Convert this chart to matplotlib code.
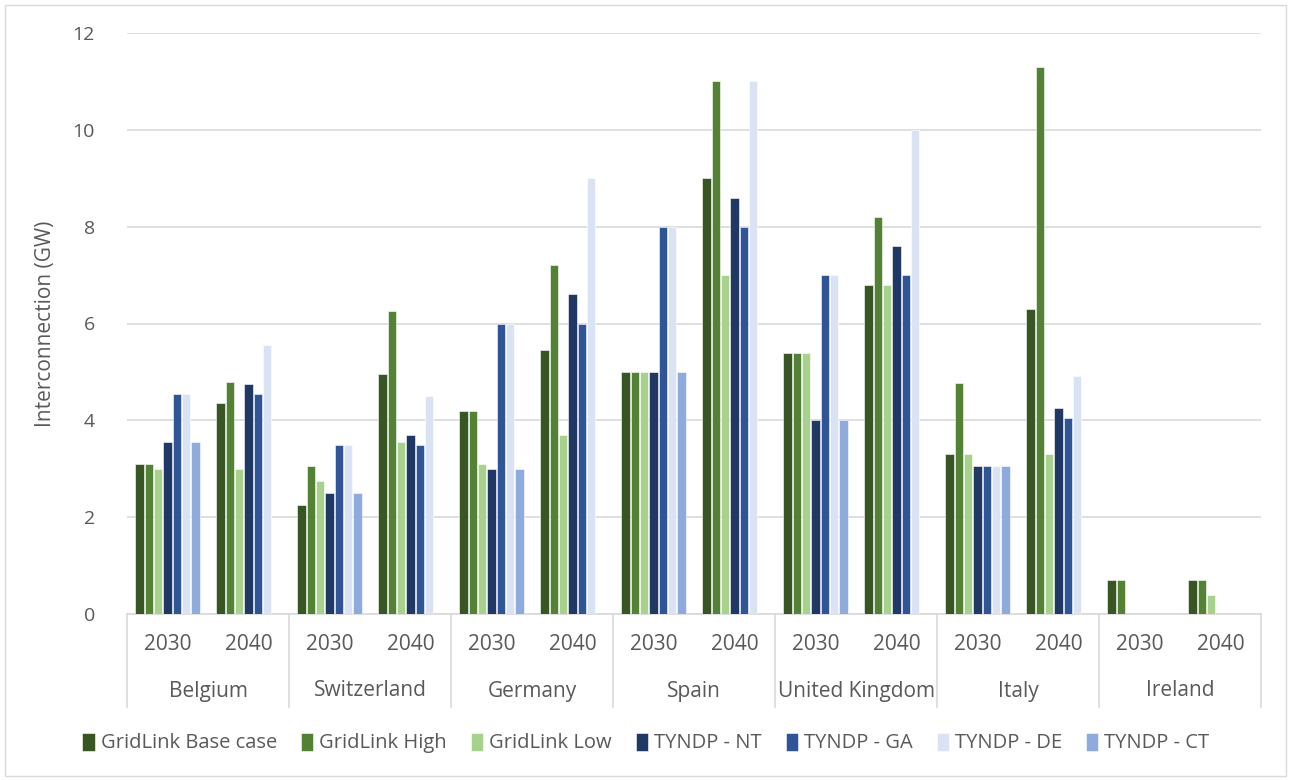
import numpy as np
import matplotlib
matplotlib.use("Agg")
import matplotlib.pyplot as plt
from matplotlib.patches import Rectangle

plt.rcParams['font.family'] = ['Open Sans', 'DejaVu Sans']

countries = ["Belgium", "Switzerland", "Germany", "Spain", "United Kingdom", "Italy", "Ireland"]
years = ["2030", "2040"]
series_names = ["GridLink Base case", "GridLink High", "GridLink Low",
                "TYNDP - NT", "TYNDP - GA", "TYNDP - DE", "TYNDP - CT"]
colors = ["#375623", "#548235", "#A9D18E", "#203864", "#2F5597", "#DAE3F3", "#8FAADC"]

nan = np.nan
# order: Belgium 2030, 2040, Switzerland 2030, 2040, ...
gridlink_base = [3.1, 4.35, 2.25, 4.95, 4.2, 5.45, 5.0, 9.0, 5.4, 6.8, 3.3, 6.3, 0.7, 0.7]
gridlink_high = [3.1, 4.8, 3.05, 6.25, 4.2, 7.2, 5.0, 11.0, 5.4, 8.2, 4.78, 11.3, 0.7, 0.7]
gridlink_low = [3.0, 3.0, 2.75, 3.55, 3.1, 3.7, 5.0, 7.0, 5.4, 6.8, 3.3, 3.3, nan, 0.4]
tyndp_nt = [3.55, 4.75, 2.5, 3.7, 3.0, 6.6, 5.0, 8.6, 4.0, 7.6, 3.05, 4.25, nan, nan]
tyndp_ga = [4.55, 4.55, 3.5, 3.5, 6.0, 6.0, 8.0, 8.0, 7.0, 7.0, 3.05, 4.05, nan, nan]
tyndp_de = [4.55, 5.55, 3.5, 4.5, 6.0, 9.0, 8.0, 11.0, 7.0, 10.0, 3.05, 4.92, nan, nan]
tyndp_ct = [3.55, nan, 2.5, nan, 3.0, nan, 5.0, nan, 4.0, nan, 3.05, nan, nan, nan]

series = [gridlink_base, gridlink_high, gridlink_low, tyndp_nt, tyndp_ga, tyndp_de, tyndp_ct]

W, H = 1292, 780
fig = plt.figure(figsize=(W / 100, H / 100), dpi=100)
fig.patch.set_facecolor("white")
# outer chart border
fig.add_artist(Rectangle((5 / W, 4 / H), (W - 11) / W, (H - 9) / H, transform=fig.transFigure,
                         fill=False, edgecolor="#D9D9D9", linewidth=1))

left, right, bottom, top = 127, 1261, 614, 33
ax = fig.add_axes([left / W, 1 - bottom / H, (right - left) / W, (bottom - top) / H])

n_cat = len(countries) * len(years)
x = np.arange(n_cat) + 0.5
pitch = 0.115
bw = 0.105
for k, (vals, name, col) in enumerate(zip(series, series_names, colors)):
    offs = (k - 3) * pitch
    ax.bar(x + offs, vals, width=bw, color=col, edgecolor="white", linewidth=0.4,
           label=name, zorder=3)

ax.set_xlim(0, n_cat)
ax.set_ylim(0, 12)
ax.set_yticks(np.arange(0, 13, 2))
ax.set_yticklabels([str(v) for v in range(0, 13, 2)], fontsize=14, color="#595959")
ax.tick_params(axis="y", length=0, pad=23)
ax.set_xticks([])
ax.grid(axis="y", color="#D9D9D9", linewidth=1.2, zorder=0)
for s in ["left", "right", "top"]:
    ax.spines[s].set_visible(False)
ax.spines["bottom"].set_color("#D9D9D9")
ax.spines["bottom"].set_linewidth(1.2)

ax.set_ylabel("Interconnection (GW)", fontsize=15, color="#595959", labelpad=12)

# multi-level category axis
span = bottom - top
y_year = -31 / span
y_country = -77 / span
y_line = -93 / span
trans = ax.get_xaxis_transform()
for b in range(0, n_cat + 1, 2):
    ax.plot([b, b], [0, y_line], transform=trans, color="#D9D9D9", linewidth=1.2,
            clip_on=False)
for i in range(n_cat):
    ax.text(x[i], y_year, years[i % 2], transform=trans, ha="center", va="center",
            fontsize=15, color="#595959")
for c, name in enumerate(countries):
    ax.text(2 * c + 1, y_country, name, transform=trans, ha="center", va="center",
            fontsize=15, color="#595959")

handles, labels = ax.get_legend_handles_labels()
leg = fig.legend(handles, labels, loc="center", bbox_to_anchor=(0.5, 1 - 743 / H),
                 ncol=7, frameon=False, fontsize=14.5, handlelength=0.6, handleheight=1.0,
                 handletextpad=0.3, columnspacing=1.2)
for t in leg.get_texts():
    t.set_color("#595959")

fig.savefig("out.png", dpi=100, facecolor="white")
